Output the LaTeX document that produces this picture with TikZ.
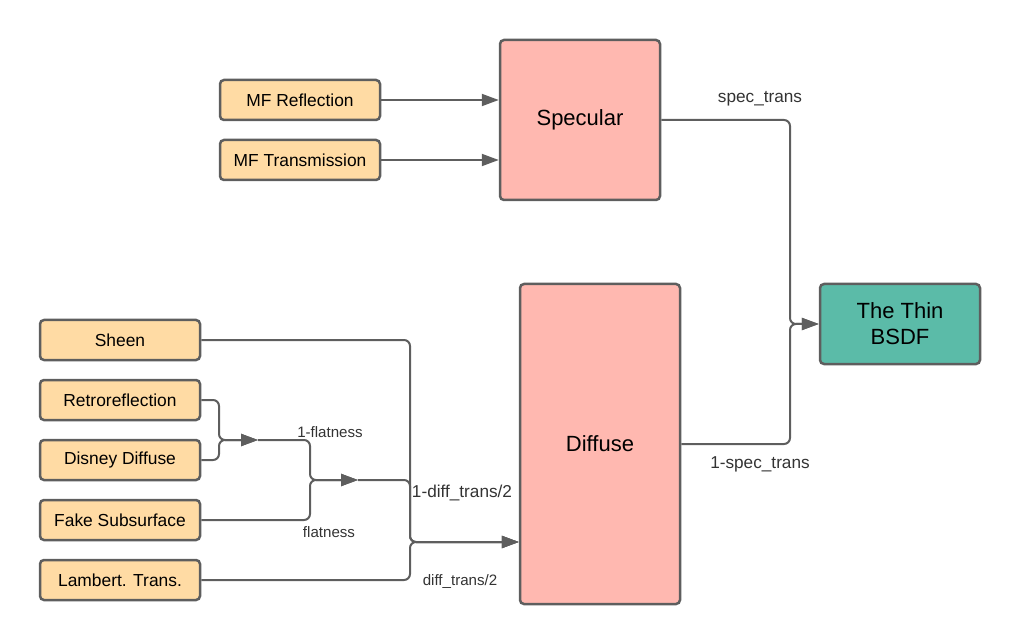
\documentclass[tikz,border=0pt]{standalone}
\usepackage{fontspec}
\setmainfont{Liberation Sans}
\usetikzlibrary{arrows.meta}
\definecolor{linegray}{HTML}{5E5E5E}
\definecolor{peach}{HTML}{FFDBA4}
\definecolor{pinkbox}{HTML}{FFB8B0}
\definecolor{tealbox}{HTML}{5BBBA8}
\tikzset{
  box/.style={draw=linegray, line width=2.5pt, rounded corners=4pt, inner sep=0pt, align=center, text=black},
  input/.style={box, fill=peach, minimum width=160pt, minimum height=40pt, font=\fontsize{17.4}{20}\selectfont},
  bigbox/.style={box, fill=pinkbox, minimum width=160pt, font=\fontsize{22}{26}\selectfont},
  outbox/.style={box, fill=tealbox, minimum width=160pt, minimum height=80pt, font=\fontsize{22}{26}\selectfont},
  conn/.style={draw=linegray, line width=2pt, rounded corners=6pt},
  arr/.style={conn, -{Triangle[length=17pt,width=12pt]}},
  lbl/.style={font=\fontsize{17.2}{20}\selectfont, text=black!80, inner sep=0pt},
  slbl/.style={lbl, font=\fontsize{15.1}{18}\selectfont}
}
\begin{document}
\begin{tikzpicture}[x=1pt,y=-1pt]
\useasboundingbox (0,0) rectangle (1020,644);
% nodes
\node[input] (mfr) at (300,100) {MF Reflection};
\node[input] (mft) at (300,160) {MF Transmission};
\node[bigbox, minimum height=160pt] (spec) at (580,120) {Specular};
\node[outbox] (bsdf) at (900,324) {The Thin\\BSDF};
\node[bigbox, minimum height=320pt] (diff) at (600,444) {Diffuse};
\node[input] (sheen) at (120,340) {Sheen};
\node[input] (retro) at (120,400) {Retroreflection};
\node[input] (disney) at (120,460) {Disney Diffuse};
\node[input] (fake) at (120,520) {Fake Subsurface};
\node[input] (lamb) at (120,580) {Lambert. Trans.};
% junctions
\coordinate (j1) at (219,440);
\coordinate (a1) at (258,440);
\coordinate (j2) at (310,480);
\coordinate (a2) at (358,480);
\coordinate (j3) at (410,542);
\coordinate (j4) at (790,324);
% connectors
\draw[arr] (mfr.east) -- (spec.west |- mfr.east);
\draw[arr] (mft.east) -- (spec.west |- mft.east);
\draw[arr] (retro.east) -| (j1) -- (a1);
\draw[arr] (disney.east) -| (j1) -- (a1);
\draw[arr] (a1) -| (j2) -- (a2);
\draw[arr] (fake.east) -| (j2) -- (a2);
\draw[arr] (a2) -| (j3) -- (diff.west |- j3);
\draw[arr] (sheen.east) -| (j3) -- (diff.west |- j3);
\draw[arr] (lamb.east) -| (j3) -- (diff.west |- j3);
\draw[arr] (spec.east |- 0,120) -| (j4) -- (bsdf.west);
\draw[arr] (diff.east) -| (j4) -- (bsdf.west);
% labels
\node[lbl] (l1) at (760,99) {spec\_trans};
\node[lbl] (l2) at (760,464) {1-spec\_trans};
\node[slbl] (l3) at (330,432) {1-flatness};
\node[slbl] (l4) at (329,532) {flatness};
\node[lbl] (l5) at (462,493) {1-diff\_trans/2};
\node[slbl] (l6) at (460,582) {diff\_trans/2};
\end{tikzpicture}
\end{document}
